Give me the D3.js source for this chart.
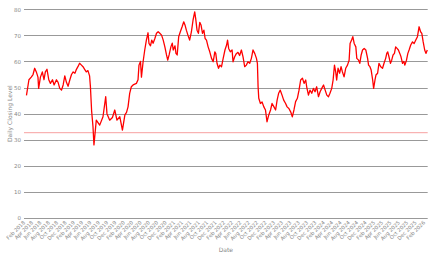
<!DOCTYPE html>
<html>
<head>
<meta charset="utf-8">
<script src="https://cdn.jsdelivr.net/npm/d3@7"></script>
<style>
  body { margin: 0; background: #fff; }
  svg { display: block; }
  text { font-family: "DejaVu Sans", sans-serif; fill: #888; }
</style>
</head>
<body>
<svg id="chart"></svg>
<script>
// closing levels
const dates = [
  "2018-02-19","2018-03-09","2018-03-26","2018-04-08","2018-04-20","2018-05-02","2018-05-14","2018-05-19",
  "2018-06-01","2018-06-15","2018-06-27","2018-07-07","2018-07-19","2018-08-01","2018-08-13","2018-08-28",
  "2018-09-09","2018-09-26","2018-10-08","2018-10-20","2018-11-02","2018-11-14","2018-11-26","2018-12-08",
  "2018-12-20","2019-01-02","2019-01-14","2019-01-26","2019-02-08","2019-02-19","2019-03-02","2019-03-14",
  "2019-03-26","2019-04-08","2019-04-20","2019-05-02","2019-05-14","2019-05-26","2019-06-01","2019-06-10",
  "2019-06-20","2019-06-27","2019-07-14","2019-08-08","2019-09-01","2019-09-21","2019-09-30","2019-10-20",
  "2019-11-09","2019-11-26","2019-12-12","2020-01-02","2020-01-21","2020-02-08","2020-02-20","2020-03-02",
  "2020-03-14","2020-03-26","2020-04-08","2020-05-02","2020-05-14","2020-05-21","2020-06-01","2020-06-08",
  "2020-06-20","2020-07-02","2020-07-14","2020-07-26","2020-08-02","2020-08-13","2020-08-22","2020-09-01",
  "2020-09-14","2020-09-26","2020-10-08","2020-10-20","2020-11-02","2020-11-14","2020-11-26","2020-12-08",
  "2020-12-17","2020-12-27","2021-01-09","2021-01-19","2021-01-26","2021-02-08","2021-02-15","2021-02-24",
  "2021-03-07","2021-03-19","2021-04-01","2021-04-13","2021-04-22","2021-05-02","2021-05-14","2021-05-26",
  "2021-06-08","2021-06-20","2021-07-02","2021-07-09","2021-07-19","2021-07-29","2021-08-08","2021-08-17",
  "2021-08-28","2021-09-07","2021-09-16","2021-09-26","2021-10-08","2021-10-20","2021-11-02","2021-11-14",
  "2021-11-26","2021-12-03","2021-12-12","2021-12-23","2022-01-02","2022-01-14","2022-01-26","2022-02-08",
  "2022-02-20","2022-02-27","2022-03-07","2022-03-19","2022-04-01","2022-04-08","2022-04-20","2022-05-02",
  "2022-05-14","2022-05-26","2022-06-08","2022-06-20","2022-07-02","2022-07-14","2022-07-26","2022-08-08",
  "2022-08-20","2022-09-01","2022-09-14","2022-09-26","2022-10-03","2022-10-08","2022-10-13","2022-10-25",
  "2022-11-06","2022-11-19","2022-12-01","2022-12-12","2022-12-25","2023-01-07","2023-01-18","2023-02-01",
  "2023-02-13","2023-02-24","2023-03-07","2023-03-19","2023-04-01","2023-04-13","2023-04-27","2023-05-08",
  "2023-05-21","2023-06-03","2023-06-15","2023-06-27","2023-07-09","2023-07-22","2023-08-03","2023-08-15",
  "2023-08-28","2023-09-09","2023-09-21","2023-09-28","2023-10-11","2023-10-22","2023-11-04","2023-11-16",
  "2023-11-28","2023-12-10","2023-12-23","2024-01-04","2024-01-16","2024-01-29","2024-02-10","2024-02-22",
  "2024-03-05","2024-03-16","2024-03-29","2024-04-08","2024-04-18","2024-04-27","2024-05-04","2024-05-14",
  "2024-05-26","2024-06-05","2024-06-15","2024-06-27","2024-07-09","2024-07-22","2024-08-03","2024-08-10",
  "2024-08-21","2024-08-30","2024-09-09","2024-09-21","2024-09-28","2024-10-11","2024-10-20","2024-10-30",
  "2024-11-09","2024-11-21","2024-12-03","2024-12-16","2024-12-23","2025-01-02","2025-01-11","2025-01-22",
  "2025-01-29","2025-02-08","2025-02-15","2025-02-27","2025-03-09","2025-03-22","2025-04-04","2025-04-15",
  "2025-04-27","2025-05-05","2025-05-12","2025-05-21","2025-06-01","2025-06-10","2025-06-20","2025-06-30",
  "2025-07-09","2025-07-19","2025-07-29","2025-08-08","2025-08-17","2025-08-28","2025-09-07","2025-09-14",
  "2025-09-26","2025-10-06","2025-10-15","2025-10-27","2025-11-09","2025-11-21","2025-12-03","2025-12-15",
  "2025-12-27","2026-01-07","2026-01-16","2026-01-26","2026-02-06","2026-02-15","2026-02-25"
];

const closes = [
  47, 53, 54, 55, 57.4, 56, 54, 49.7,
  54, 56, 53, 56, 57, 53, 51.6, 53,
  51, 53, 52, 49.7, 49, 51, 54.5, 52,
  50.5, 53, 55, 56, 55.5, 57, 58, 59.3,
  58.7, 58, 57, 56, 56.5, 54.5, 50.5, 41,
  35, 28, 37.5, 35.6, 38.8, 46.5, 40, 37.5,
  38.5, 41.4, 37.5, 38.8, 33.7, 39.5, 40.5, 42.6,
  47.8, 50.3, 51, 51.6, 53, 58.6, 60, 54,
  59.9, 64.4, 68.2, 71, 66.9, 66, 68.2, 67,
  68.8, 70.8, 71.4, 70.8, 70.1, 68.2, 65.6, 62.5,
  60.5, 62.5, 65.6, 67, 64.4, 66, 63.1, 62.5,
  69.5, 71.4, 73.3, 75.2, 74, 72, 70, 68.2,
  71.4, 75.9, 79, 76.5, 72, 70.8, 75, 74,
  70.8, 72, 68.8, 68.2, 65.6, 63.7, 61.2, 59.9,
  63.7, 63, 59.3, 57.4, 58.6, 58, 61.2, 64.4,
  66.3, 68.2, 65, 63.7, 64.4, 59.9, 61.8, 63,
  63.5, 62.3, 64.4, 61.8, 58, 58.6, 59.9, 59.3,
  61.2, 64.4, 63, 61.2, 59.3, 50.3, 45.9, 43.9,
  44.5, 42.6, 41.4, 36.9, 39.5, 41.4, 43.9, 42.6,
  41.4, 45.2, 47.8, 49, 47.1, 45.2, 43.9, 42.6,
  42, 40.7, 38.8, 41.4, 44.6, 45.9, 49, 52.9,
  53.6, 51.6, 52.9, 50.3, 47.1, 49, 47.8, 49.7,
  48.4, 50.3, 46.5, 48.4, 49.7, 51, 49, 47.1,
  46.5, 47.8, 49.7, 52.9, 58.6, 56, 52.9, 57.4,
  55.5, 58, 56, 54.1, 57.4, 58.6, 60.5, 66.9,
  68.2, 69.5, 66.9, 65.6, 61.2, 60.5, 59.3, 62.5,
  64.4, 65, 64.4, 61.2, 58.6, 58, 56.7, 52.9,
  49.7, 52.9, 54.8, 55.5, 59.3, 58, 57.4, 59.3,
  61.2, 63.1, 63.7, 61.8, 59.3, 60.5, 62.5, 63.1,
  65.6, 65, 64.4, 63.1, 61.8, 59.3, 60, 58.6,
  60.5, 63.1, 64.4, 66.3, 67.5, 66.9, 68.2, 69.5,
  73.3, 71.4, 70.8, 67.5, 64.4, 63.1, 64.4
];

const refLevel = 32.7;                 // pale red horizontal line
const yTicks = [0, 10, 20, 30, 40, 50, 60, 70, 80];
const xStart = "2018-02-01", xEnd = "2026-02-28";

const width = 436, height = 257;
const parse = d3.timeParse("%Y-%m-%d");

const svg = d3.select("#chart").attr("width", width).attr("height", height);

const x = d3.scaleTime()
    .domain([parse(xStart), parse(xEnd)])
    .range([24, 427.7]);

const y = d3.scaleLinear()
    .domain([0, 80])
    .range([218, 9.3]);

// grid + y labels
svg.append("g")
    .selectAll("line")
    .data(yTicks)
    .join("line")
    .attr("x1", x.range()[0]).attr("x2", x.range()[1])
    .attr("y1", d => Math.round(y(d)) + 0.5).attr("y2", d => Math.round(y(d)) + 0.5)
    .attr("stroke", "#999")
    .attr("stroke-width", 1);

const yAxis = svg.append("g")
    .attr("transform", "translate(21,0)")
    .call(d3.axisLeft(y).tickValues(yTicks).tickSize(0).tickPadding(0));
yAxis.select(".domain").remove();
yAxis.selectAll("text").attr("font-size", 5.5).attr("fill", "#888")
    .attr("font-family", "DejaVu Sans, sans-serif");

// x axis: every two months from Feb
const xTicks = d3.timeMonth.range(parse(xStart), parse("2026-02-02"), 2);
const xAxis = svg.append("g")
    .attr("transform", "translate(0,218)")
    .call(d3.axisBottom(x).tickValues(xTicks).tickFormat(d3.timeFormat("%b %Y")).tickSize(0));
xAxis.select(".domain").remove();
xAxis.selectAll("text")
    .attr("font-size", 5.2)
    .attr("fill", "#888")
    .attr("font-family", "DejaVu Sans, sans-serif")
    .attr("text-anchor", "end")
    .attr("dy", null)
    .attr("y", 0)
    .attr("transform", "translate(1,5) rotate(-45)");

// reference line
svg.append("line")
    .attr("x1", x.range()[0]).attr("x2", x.range()[1])
    .attr("y1", y(refLevel)).attr("y2", y(refLevel))
    .attr("stroke", "#f7a0a0")
    .attr("stroke-width", 1);

// series
const data = dates.map((d, i) => ({date: parse(d), value: closes[i]}));

svg.append("path")
    .datum(data)
    .attr("fill", "none")
    .attr("stroke", "#f00")
    .attr("stroke-width", 1.3)
    .attr("stroke-linejoin", "round")
    .attr("d", d3.line().x(d => x(d.date)).y(d => y(d.value)));

// axis titles
svg.append("text")
    .attr("transform", `translate(12,${(y(0) + y(80)) / 2}) rotate(-90)`)
    .attr("text-anchor", "middle")
    .attr("font-size", 6)
    .text("Daily Closing Level");

svg.append("text")
    .attr("x", (x.range()[0] + x.range()[1]) / 2)
    .attr("y", 252)
    .attr("text-anchor", "middle")
    .attr("font-size", 6)
    .text("Date");
</script>
</body>
</html>
